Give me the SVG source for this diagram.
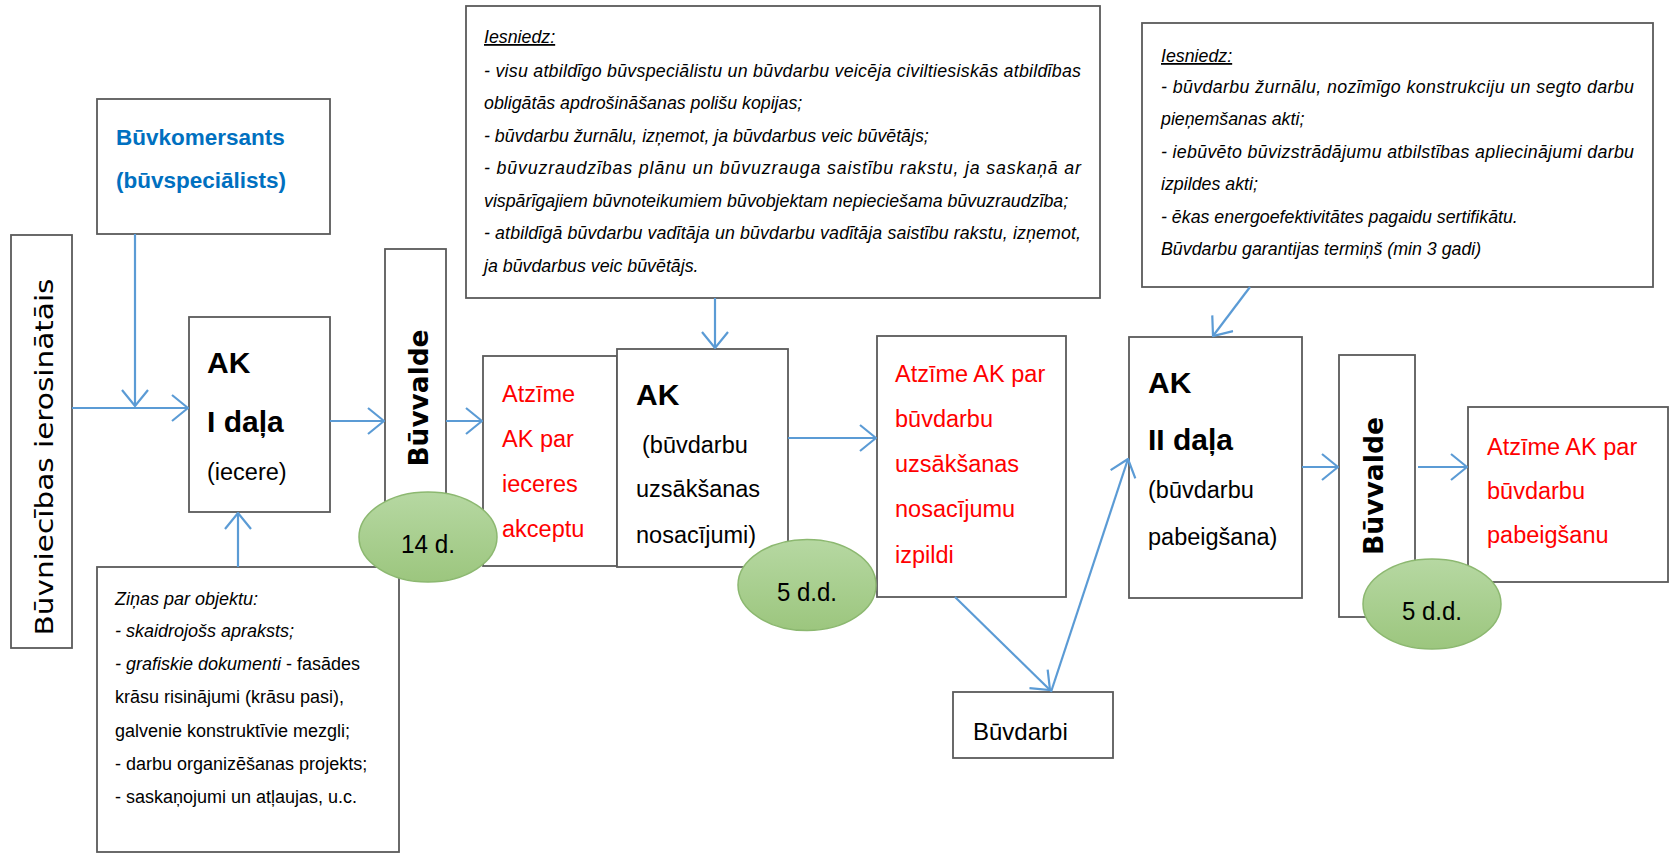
<svg xmlns="http://www.w3.org/2000/svg" width="1671" height="854" viewBox="0 0 1671 854">
<style>
.box{fill:#fff;stroke:#5a5a5a;stroke-width:1.8}
.t{font-family:"Liberation Sans",Arial,sans-serif;fill:#000}
.red{fill:#ff0000;font-size:23.5px}
.blk{font-size:23.5px}
.bold{font-weight:bold;font-size:30px}
.it{font-style:italic;font-size:17.8px}
.zi{font-size:18px}
.vert{font-family:"DejaVu Sans",Verdana,sans-serif;fill:#000}
.days{font-size:25px}
.conn line{stroke:#5B9BD5;stroke-width:2.2;fill:none;marker-end:url(#arr)}
.ell{fill:url(#g);stroke:#8cb870;stroke-width:1.5}
</style>
<defs>
<marker id="arr" viewBox="0 0 18 28" refX="17" refY="14" markerWidth="18" markerHeight="28" markerUnits="userSpaceOnUse" orient="auto">
<path d="M1,1 L17,14 L1,27" fill="none" stroke="#5B9BD5" stroke-width="2.2"/>
</marker>
<linearGradient id="g" x1="0" y1="0" x2="0" y2="1">
<stop offset="0" stop-color="#b6d8a2"/>
<stop offset="1" stop-color="#9cc67e"/>
</linearGradient>
</defs>
<rect width="1671" height="854" fill="#fff"/>

<g id="ierosinatajs">
<rect class="box" x="11" y="235" width="61" height="413"/>
<text class="vert" x="53" y="457" transform="rotate(-90 53 457)" text-anchor="middle" font-size="25" textLength="357" lengthAdjust="spacingAndGlyphs">Būvniecības ierosinātāis</text>
</g>

<g id="buvkomersants">
<rect class="box" x="97" y="99" width="233" height="135"/>
<text class="t" x="116" y="145" font-size="22.5" font-weight="bold" style="fill:#0070C0">Būvkomersants</text>
<text class="t" x="116" y="188" font-size="22.5" font-weight="bold" style="fill:#0070C0">(būvspeciālists)</text>
</g>

<g id="ak1">
<rect class="box" x="189" y="317" width="141" height="195"/>
<text class="t bold" x="207" y="373">AK</text>
<text class="t bold" x="207" y="432">I daļa</text>
<text class="t blk" x="207" y="480">(iecere)</text>
</g>

<g id="zinas">
<rect class="box" x="97" y="567" width="302" height="285"/>
<text class="t zi" x="115" y="605" font-style="italic">Ziņas par objektu:</text>
<text class="t zi" x="115" y="637" font-style="italic">- skaidrojošs apraksts;</text>
<text class="t zi" x="115" y="670"><tspan font-style="italic">- grafiskie dokumenti</tspan> - fasādes</text>
<text class="t zi" x="115" y="703">krāsu risinājumi (krāsu pasi),</text>
<text class="t zi" x="115" y="737">galvenie konstruktīvie mezgli;</text>
<text class="t zi" x="115" y="770">- darbu organizēšanas projekts;</text>
<text class="t zi" x="115" y="803">- saskaņojumi un atļaujas, u.c.</text>
</g>

<g id="buvvalde1">
<rect class="box" x="385" y="249" width="61" height="296"/>
<text class="vert" x="428" y="398" transform="rotate(-90 428 398)" text-anchor="middle" font-size="26" font-weight="bold" textLength="137" lengthAdjust="spacingAndGlyphs">Būvvalde</text>
</g>

<g id="iesniedz1">
<rect class="box" x="466" y="6" width="634" height="292"/>
<text class="t it" x="484" y="43" text-decoration="underline">Iesniedz:</text>
<text class="t it" x="484" y="77" textLength="597">- visu atbildīgo būvspeciālistu un būvdarbu veicēja civiltiesiskās atbildības</text>
<text class="t it" x="484" y="109">obligātās apdrošināšanas polišu kopijas;</text>
<text class="t it" x="484" y="142">- būvdarbu žurnālu, izņemot, ja būvdarbus veic būvētājs;</text>
<text class="t it" x="484" y="174" textLength="597">- būvuzraudzības plānu un būvuzrauga saistību rakstu, ja saskaņā ar</text>
<text class="t it" x="484" y="207">vispārīgajiem būvnoteikumiem būvobjektam nepieciešama būvuzraudzība;</text>
<text class="t it" x="484" y="239" textLength="597">- atbildīgā būvdarbu vadītāja un būvdarbu vadītāja saistību rakstu, izņemot,</text>
<text class="t it" x="484" y="272">ja būvdarbus veic būvētājs.</text>
</g>

<g id="atzime-ieceres">
<rect class="box" x="483" y="356" width="134" height="210"/>
<text class="t red" x="502" y="402">Atzīme</text>
<text class="t red" x="502" y="447">AK par</text>
<text class="t red" x="502" y="492">ieceres</text>
<text class="t red" x="502" y="537">akceptu</text>
</g>

<g id="ak-uzsaksanas">
<rect class="box" x="617" y="349" width="171" height="218"/>
<text class="t bold" x="636" y="405">AK</text>
<text class="t blk" x="642" y="453">(būvdarbu</text>
<text class="t blk" x="636" y="497">uzsākšanas</text>
<text class="t blk" x="636" y="543">nosacījumi)</text>
</g>

<g id="atzime-uzsaksanas">
<rect class="box" x="877" y="336" width="189" height="261"/>
<text class="t red" x="895" y="382">Atzīme AK par</text>
<text class="t red" x="895" y="427">būvdarbu</text>
<text class="t red" x="895" y="472">uzsākšanas</text>
<text class="t red" x="895" y="517">nosacījumu</text>
<text class="t red" x="895" y="563">izpildi</text>
</g>

<g id="buvdarbi">
<rect class="box" x="953" y="692" width="160" height="66"/>
<text class="t" x="973" y="740" font-size="24">Būvdarbi</text>
</g>

<g id="ak2">
<rect class="box" x="1129" y="337" width="173" height="261"/>
<text class="t bold" x="1148" y="393">AK</text>
<text class="t bold" x="1148" y="450">II daļa</text>
<text class="t blk" x="1148" y="498">(būvdarbu</text>
<text class="t blk" x="1148" y="545">pabeigšana)</text>
</g>

<g id="iesniedz2">
<rect class="box" x="1142" y="23" width="511" height="264"/>
<text class="t it" x="1161" y="62" text-decoration="underline">Iesniedz:</text>
<text class="t it" x="1161" y="93" textLength="473">- būvdarbu žurnālu, nozīmīgo konstrukciju un segto darbu</text>
<text class="t it" x="1161" y="125">pieņemšanas akti;</text>
<text class="t it" x="1161" y="158" textLength="473">- iebūvēto būvizstrādājumu atbilstības apliecinājumi darbu</text>
<text class="t it" x="1161" y="190">izpildes akti;</text>
<text class="t it" x="1161" y="223">- ēkas energoefektivitātes pagaidu sertifikātu.</text>
<text class="t it" x="1161" y="255">Būvdarbu garantijas termiņš (min 3 gadi)</text>
</g>

<g id="buvvalde2">
<rect class="box" x="1339" y="355" width="76" height="262"/>
<text class="vert" x="1383" y="486" transform="rotate(-90 1383 486)" text-anchor="middle" font-size="26" font-weight="bold" textLength="138" lengthAdjust="spacingAndGlyphs">Būvvalde</text>
</g>

<g id="atzime-pabeigsanu">
<rect class="box" x="1468" y="407" width="200" height="175"/>
<text class="t red" x="1487" y="455">Atzīme AK par</text>
<text class="t red" x="1487" y="499">būvdarbu</text>
<text class="t red" x="1487" y="543">pabeigšanu</text>
</g>

<g id="connectors" class="conn">
<line x1="72" y1="408" x2="188" y2="408"/>
<line x1="135" y1="234" x2="135" y2="406"/>
<line x1="238" y1="567" x2="238" y2="513"/>
<line x1="330" y1="421" x2="384" y2="421"/>
<line x1="446" y1="421" x2="482" y2="421"/>
<line x1="715" y1="298" x2="715" y2="348"/>
<line x1="788" y1="438" x2="876" y2="438"/>
<line x1="955" y1="597" x2="1050" y2="690"/>
<line x1="1051" y1="692" x2="1128" y2="459"/>
<line x1="1250" y1="287" x2="1213" y2="336"/>
<line x1="1302" y1="467" x2="1338" y2="467"/>
<line x1="1418" y1="467" x2="1467" y2="467"/>
</g>

<g id="d14">
<ellipse class="ell" cx="428" cy="537" rx="69" ry="45"/>
<text class="t days" x="428" y="553" text-anchor="middle" textLength="54" lengthAdjust="spacingAndGlyphs">14 d.</text>
</g>
<g id="d5a">
<ellipse class="ell" cx="807" cy="585" rx="69" ry="45.5"/>
<text class="t days" x="807" y="601" text-anchor="middle" textLength="60" lengthAdjust="spacingAndGlyphs">5 d.d.</text>
</g>
<g id="d5b">
<ellipse class="ell" cx="1432" cy="604" rx="69" ry="45"/>
<text class="t days" x="1432" y="620" text-anchor="middle" textLength="60" lengthAdjust="spacingAndGlyphs">5 d.d.</text>
</g>
</svg>
